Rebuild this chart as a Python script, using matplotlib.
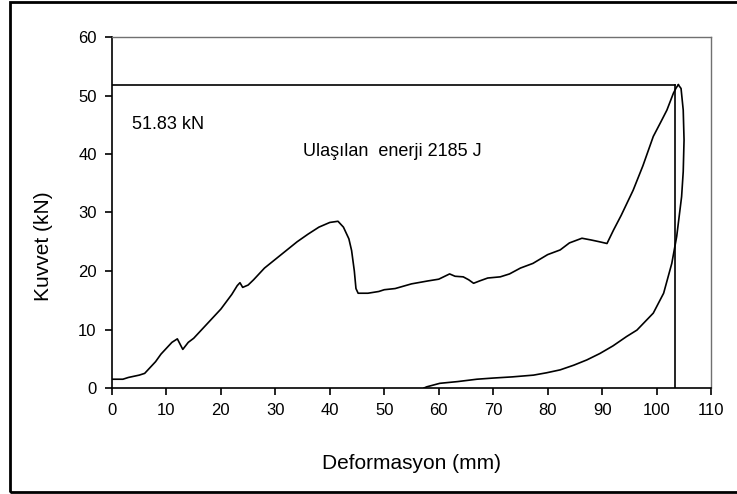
import matplotlib.pyplot as plt
from matplotlib.patches import Rectangle

plt.rcParams['font.family'] = ['Liberation Sans', 'DejaVu Sans']

# Yukleme egrisi (deformasyon mm, kuvvet kN)
load_x = [0, 2, 3, 5, 6, 7, 8, 9, 10, 11, 12, 12.5, 13, 13.5, 14, 15, 16, 18, 20,
          22, 23, 23.5, 24, 25, 26, 28, 30, 32, 34, 36, 38, 40, 41.5, 42.5, 43.5,
          44, 44.5, 44.8, 45.2, 47, 49, 50, 52, 55, 58, 60, 62, 63, 64.5, 65.5,
          66.4, 67.5, 69, 71.3, 73, 75, 77.3, 80, 82.3, 84, 86.3, 88, 89.5, 90.9,
          92.1, 93.5, 95.7, 97.5, 99.4, 100.8, 101.9, 103.1, 103.6, 104.0]
load_y = [1.5, 1.5, 1.8, 2.2, 2.5, 3.5, 4.5, 5.8, 6.8, 7.8, 8.4, 7.5, 6.6, 7.2,
          7.8, 8.5, 9.5, 11.5, 13.5, 16.0, 17.5, 18.0, 17.2, 17.6, 18.5, 20.5,
          22.0, 23.5, 25.0, 26.3, 27.5, 28.3, 28.5, 27.5, 25.5, 23.5, 20.0, 17.0,
          16.2, 16.2, 16.5, 16.8, 17.0, 17.8, 18.3, 18.6, 19.5, 19.1, 19.0, 18.5,
          17.9, 18.3, 18.8, 19.0, 19.5, 20.5, 21.3, 22.8, 23.6, 24.8, 25.6, 25.3,
          25.0, 24.7, 27.0, 29.5, 33.8, 38.0, 43.0, 45.5, 47.5, 50.4, 51.3, 51.83]

# Bosaltma egrisi
unload_x = [104.0, 104.5, 104.9, 105.05, 104.9, 104.6, 103.7, 102.8, 101.3, 99.4,
            96.4, 94.5, 92.0, 89.6, 87.2, 84.8, 82.3, 79.8, 77.4, 73.5, 70.0,
            67.0, 63.5, 60.2, 57.8, 57.3]
unload_y = [51.83, 51.2, 47.5, 42.4, 37.0, 32.7, 25.9, 21.3, 16.2, 12.8, 9.9, 8.8,
            7.2, 5.9, 4.8, 3.9, 3.1, 2.6, 2.2, 1.9, 1.7, 1.5, 1.1, 0.8, 0.2, 0.0]

peak_x = 103.3
peak_y = 51.83

fig = plt.figure(figsize=(7.37, 4.94), dpi=100)
ax = fig.add_axes([112 / 737, 106 / 494, 599 / 737, 351 / 494])

ax.plot(load_x, load_y, color='black', lw=1.2)
ax.plot(unload_x, unload_y, color='black', lw=1.2)
ax.plot([0, peak_x], [peak_y, peak_y], color='black', lw=1.2)
ax.plot([peak_x, peak_x], [0, peak_y], color='black', lw=1.2)

ax.set_xlim(0, 110)
ax.set_ylim(0, 60)
ax.set_xticks(range(0, 111, 10))
ax.set_yticks(range(0, 61, 10))
ax.tick_params(direction='out', length=5, width=1.2, labelsize=12, pad=6, colors='black')
ax.spines['left'].set_linewidth(1.2)
ax.spines['bottom'].set_linewidth(1.2)
ax.spines['top'].set_color('#707070')
ax.spines['right'].set_color('#707070')
ax.spines['top'].set_linewidth(1.0)
ax.spines['right'].set_linewidth(1.0)

ax.set_xlabel('Deformasyon (mm)', fontsize=15, labelpad=26)
ax.set_ylabel('Kuvvet (kN)', fontsize=15)
ax.yaxis.set_label_coords(-0.098, 0.405)

ax.text(3.7, 45.1, '51.83 kN', fontsize=13, va='center', ha='left')
ax.text(35.1, 40.5, 'Ulaşılan  enerji 2185 J', fontsize=13, va='center', ha='left')

fig.patches.append(Rectangle((10 / 737, 2 / 494), 740 / 737, 490 / 494,
                             transform=fig.transFigure, fill=False,
                             edgecolor='black', lw=2))

fig.savefig('out.png', dpi=100)
